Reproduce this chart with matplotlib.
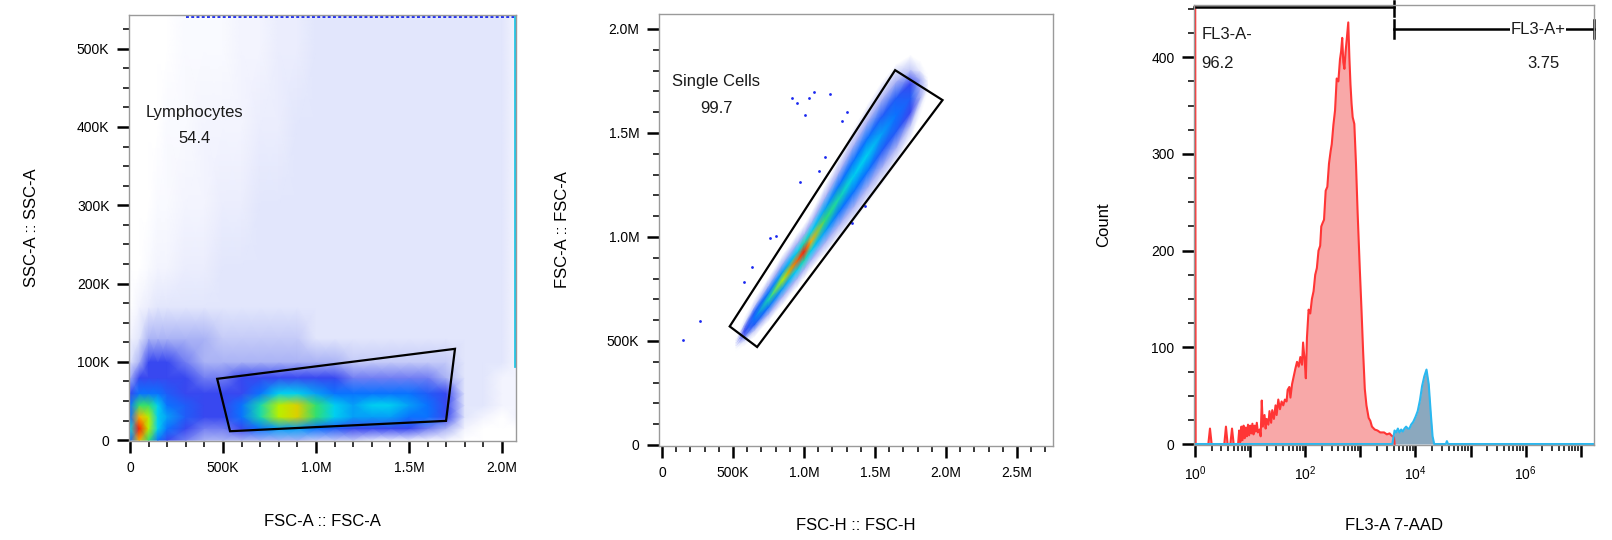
import matplotlib
matplotlib.use("Agg")
import matplotlib.pyplot as plt
import numpy as np
from matplotlib.colors import LinearSegmentedColormap, Normalize
from matplotlib.ticker import MultipleLocator, FuncFormatter, FixedLocator, LogLocator, NullFormatter

plt.rcParams.update({
    "font.family": ["Liberation Sans", "DejaVu Sans"],
    "mathtext.fontset": "custom",
    "mathtext.rm": "Liberation Sans",
    "text.color": "#1a1a1a",
})

# ── Panel 1: FSC-A vs SSC-A, density levels (0 = empty .. 10 = densest), values in K ──
p1_fsc = [0, 50, 100, 150, 200, 300, 400, 500, 600, 700, 800, 900, 1000, 1100,
          1200, 1300, 1400, 1500, 1600, 1700, 1800, 1900, 2000, 2075]
p1_ssc = [0, 15, 30, 45, 60, 80, 100, 130, 170, 220, 300, 400, 500, 543]
p1_level = [
    [5, 9, 7, 5, 4, 3.5, 3, 3, 3, 3, 3, 3, 2.5, 2.5, 2.5, 2, 1.5, 1.5, 1, 1, 0, 0, 0, 0],
    [6, 10, 8, 6, 5, 4, 3.5, 3.5, 4, 5, 5.5, 5.5, 5, 4.5, 4, 4, 4, 4, 3.5, 3, 1, 0, 0, 0],
    [5, 9, 8, 6, 5.5, 4.5, 4, 4, 5, 6.5, 8, 8.5, 7, 6, 5.5, 5.5, 5.5, 5, 5, 4, 2, 1, 0, 1],
    [5, 7, 7, 6, 5, 4.5, 4, 4, 5, 6.5, 8, 8.5, 7, 6, 5.5, 6, 6, 5.5, 5, 4, 2, 2, 1, 1],
    [4, 5, 5, 5, 4.5, 4, 4, 4, 4, 5, 6, 6, 5.5, 5, 5, 5, 5, 5, 4.5, 4, 2, 2, 1, 1],
    [3, 4, 4, 4, 4, 4, 3.5, 3.5, 4, 4, 4, 4, 4, 4, 3.5, 3.5, 3.5, 3.5, 3.5, 3, 2, 2, 1, 1],
    [2, 3, 4, 4, 4, 3.5, 3, 3, 3, 3, 3, 3, 3, 3, 2.5, 2.5, 2.5, 2.5, 2.5, 2.5, 2, 2, 2, 1],
    [1, 2, 3, 3, 3, 3, 3, 2.5, 2.5, 2.5, 2.5, 2.5, 2, 2, 2, 2, 2, 2, 2, 2, 2, 2, 2, 1],
    [0, 1, 1.5, 2, 2, 2, 2, 2, 2, 2, 2, 2, 2, 2, 2, 2, 2, 2, 2, 2, 2, 2, 2, 1],
    [0, 0, 0.5, 1, 1, 1.5, 1.5, 2, 2, 2, 2, 2, 2, 2, 2, 2, 2, 2, 2, 2, 2, 2, 2, 1],
    [0, 0, 0, 0.5, 0.5, 1, 1, 1.5, 1.5, 2, 2, 2, 2, 2, 2, 2, 2, 2, 2, 2, 2, 2, 2, 1],
    [0, 0, 0, 0, 0.5, 0.5, 1, 1, 1, 1.5, 1.5, 2, 2, 2, 2, 2, 2, 2, 2, 2, 2, 2, 2, 1],
    [0, 0, 0, 0, 0, 0.5, 0.5, 0.5, 1, 1, 1.5, 1.5, 2, 2, 2, 2, 2, 2, 2, 2, 2, 2, 2, 1],
    [0, 0, 0, 0, 0, 0.5, 0.5, 0.5, 1, 1, 1.5, 1.5, 2, 2, 2, 2, 2, 2, 2, 2, 2, 2, 2, 1],
]
p1_top_edge_fsc = [300, 2070]     # events piled up at max SSC
p1_right_edge_ssc = [95, 543]     # events piled up at max FSC
lymph_gate_fsc = [469, 1747, 1699, 538]
lymph_gate_ssc = [78.4, 116.7, 24.7, 11.5]

# ── Panel 2: FSC-H vs FSC-A, ridge of singlet population (K) ──
ridge_h = [520, 580, 650, 750, 850, 950, 1000, 1050, 1150, 1250, 1350, 1450, 1550, 1650, 1750, 1820, 1870]
ridge_a = [490, 545, 610, 700, 795, 885, 930, 980, 1085, 1190, 1295, 1400, 1500, 1590, 1670, 1715, 1735]
ridge_half = [25, 45, 60, 70, 80, 85, 85, 90, 110, 130, 150, 160, 165, 160, 135, 85, 35]
ridge_center = [1, 4, 5, 6.5, 8, 9.5, 10, 9, 7, 6.5, 6, 6, 5.5, 5, 4.5, 3, 1]
ridge_mid = [0.5, 3.5, 4.5, 5, 5.5, 6, 6.5, 6, 5.5, 5, 5, 5, 4.5, 4.5, 4, 3, 0.5]
ridge_edge = [0, 2, 2.5, 3, 3, 3, 3, 3, 3, 3, 3, 3, 3, 3, 2.5, 1.5, 0]
out_h = [148, 270, 635, 576, 760, 800, 917, 953, 1035, 1070, 1181, 1004, 971, 1105, 1145, 1270, 1300, 1430, 1340]
out_a = [504, 595, 856, 785, 995, 1003, 1670, 1645, 1666, 1699, 1686, 1587, 1265, 1319, 1385, 1557, 1600, 1149, 1066]
single_gate_h = [477, 1642, 1976, 670]
single_gate_a = [570, 1802, 1658, 471]

# ── Panel 3: FL3-A histogram, log10 position vs count ──
neg_log = [0.00, 0.01, 0.24, 0.27, 0.30, 0.53, 0.56, 0.59, 0.64, 0.67, 0.70,
           0.78, 0.80, 0.82, 0.84, 0.86, 0.88, 0.90, 0.92, 0.94, 0.96, 0.98, 1.00,
           1.02, 1.04, 1.06, 1.08, 1.10, 1.12, 1.14, 1.17, 1.19, 1.21, 1.23, 1.26,
           1.28, 1.30, 1.33, 1.35, 1.38, 1.40, 1.43, 1.46, 1.48, 1.51, 1.54, 1.57,
           1.60, 1.63, 1.66, 1.68, 1.71, 1.73, 1.76, 1.79, 1.82, 1.85, 1.88, 1.91,
           1.94, 1.96, 1.99, 2.01, 2.03, 2.06, 2.09, 2.12, 2.15, 2.18, 2.21, 2.24,
           2.27, 2.29, 2.31, 2.34, 2.37, 2.40, 2.43, 2.46, 2.48, 2.51, 2.54, 2.57,
           2.60, 2.63, 2.65, 2.67, 2.69, 2.71, 2.73, 2.75, 2.78, 2.80, 2.82, 2.84,
           2.86, 2.89, 2.92, 2.95, 2.99, 3.02, 3.05, 3.08, 3.11, 3.15, 3.18, 3.21,
           3.26, 3.31, 3.36, 3.43, 3.48, 3.53, 3.56, 3.61, 3.62]
neg_count = [600, 0, 0, 16, 0, 0, 18, 0, 0, 16, 0,
             0, 14, 2, 18, 4, 19, 6, 17, 8, 20, 9, 19,
             11, 21, 10, 19, 13, 22, 12, 15, 8, 45, 18, 30,
             16, 26, 20, 34, 22, 35, 26, 40, 30, 46, 36, 44,
             40, 46, 44, 56, 59, 48, 62, 70, 78, 85, 80, 90,
             82, 105, 85, 68, 110, 139, 135, 150, 158, 175, 182, 200,
             205, 225, 228, 232, 262, 266, 290, 303, 310, 330, 345, 378,
             375, 398, 406, 420, 395, 388, 405, 417, 436, 400, 372, 352,
             338, 331, 290, 239, 180, 139, 95, 57, 40, 27, 24, 18,
             15, 14, 12, 12, 10, 11, 9, 7, 0]
pos_log = [-0.1, 3.58, 3.62, 3.65, 3.68, 3.71, 3.74, 3.77, 3.80, 3.83, 3.86, 3.89,
           3.92, 3.96, 4.00, 4.04, 4.08, 4.12, 4.16, 4.20, 4.24, 4.28, 4.31, 4.34,
           4.55, 4.57, 4.59, 7.4]
pos_count = [0, 0, 14, 12, 16, 12, 15, 13, 16, 18, 16, 16,
             20, 23, 28, 34, 45, 60, 70, 77, 62, 30, 8, 0,
             0, 3, 0, 0]
neg_gate_log = (-0.02, 3.61)
pos_gate_log = (3.61, 7.24)

# density colours (FlowJo pseudocolor on white)
level_colors = ["#ffffff", "#f3f4fe", "#e2e6fc", "#a9b2f5", "#3848f0", "#0a70ff",
                "#00d0f0", "#30e070", "#b8f000", "#ffb000", "#ff1e00"]
dens_cmap = LinearSegmentedColormap.from_list("flow", level_colors)
dens_norm = Normalize(0, 10)

SPINE = "#9a9a9a"


def style_axes(ax):
    for s in ax.spines.values():
        s.set_color(SPINE)
        s.set_linewidth(1.0)
    ax.tick_params(which="major", direction="out", length=8.6, width=1.8, color="black",
                   labelsize=10, pad=5.5, top=False, right=False)
    ax.tick_params(which="minor", direction="out", length=4.3, width=1.1, color="black",
                   top=False, right=False)


def fmt_k(v, pos):
    if abs(v) < 1e-9:
        return "0"
    if v < 1000:
        return f"{v:.0f}K"
    return f"{v / 1000:.1f}M"


fig = plt.figure(figsize=(16.12, 5.4), dpi=100)

# ── Panel 1 ──
ax1 = fig.add_axes([129 / 1612, 99 / 540, 387 / 1612, 426 / 540])
X1, Y1 = np.meshgrid(p1_fsc, p1_ssc)
ax1.pcolormesh(X1, Y1, np.array(p1_level), cmap=dens_cmap, norm=dens_norm, shading="gouraud")
ax1.plot(p1_top_edge_fsc, [541, 541], color="#2030f0", lw=1.4, ls=(0, (1.5, 1.2)))
ax1.plot([2069, 2069], p1_right_edge_ssc, color="#20c8e8", lw=2.0)
ax1.fill(lymph_gate_fsc, lymph_gate_ssc, fill=False, edgecolor="black", lw=1.6)
ax1.text(349, 418, "Lymphocytes", ha="center", va="center", fontsize=12)
ax1.text(349, 385, "54.4", ha="center", va="center", fontsize=12)
ax1.set_xlim(-5, 2075)
ax1.set_ylim(-1, 543)
ax1.xaxis.set_major_locator(MultipleLocator(500))
ax1.xaxis.set_minor_locator(MultipleLocator(100))
ax1.yaxis.set_major_locator(MultipleLocator(100))
ax1.yaxis.set_minor_locator(MultipleLocator(25))
ax1.xaxis.set_major_formatter(FuncFormatter(fmt_k))
ax1.yaxis.set_major_formatter(FuncFormatter(fmt_k))
style_axes(ax1)
ax1.set_xlabel("FSC-A :: FSC-A", fontsize=12)
ax1.set_ylabel("SSC-A :: SSC-A", fontsize=12)
ax1.xaxis.set_label_coords(0.5, -0.188)
ax1.yaxis.set_label_coords(-0.251, 0.5)
ax1.xaxis.label.set_va("center")
ax1.yaxis.label.set_va("center")

# ── Panel 2 ──
ax2 = fig.add_axes([659 / 1612, 94 / 540, 394 / 1612, 432 / 540])
offsets = np.array([-1.5, -1.0, -0.5, 0.0, 0.5, 1.0, 1.5])
h = np.array(ridge_h, dtype=float)
a = np.array(ridge_a, dtype=float)
hw = np.array(ridge_half, dtype=float)
X2 = np.tile(h, (len(offsets), 1))
Y2 = a[None, :] + offsets[:, None] * hw[None, :]
zeros = np.zeros(len(ridge_h))
C2 = np.vstack([zeros, ridge_edge, ridge_mid, ridge_center, ridge_mid, ridge_edge, zeros])
ax2.pcolormesh(X2, Y2, C2, cmap=dens_cmap, norm=dens_norm, shading="gouraud")
ax2.scatter(out_h, out_a, s=4, color="#1a28f0", linewidths=0)
ax2.fill(single_gate_h, single_gate_a, fill=False, edgecolor="black", lw=1.6)
ax2.text(383, 1749, "Single Cells", ha="center", va="center", fontsize=12)
ax2.text(383, 1620, "99.7", ha="center", va="center", fontsize=12)
ax2.set_xlim(-21, 2754)
ax2.set_ylim(-5, 2072)
ax2.xaxis.set_major_locator(MultipleLocator(500))
ax2.xaxis.set_minor_locator(MultipleLocator(100))
ax2.yaxis.set_major_locator(MultipleLocator(500))
ax2.yaxis.set_minor_locator(MultipleLocator(100))
ax2.xaxis.set_major_formatter(FuncFormatter(fmt_k))
ax2.yaxis.set_major_formatter(FuncFormatter(fmt_k))
style_axes(ax2)
ax2.set_xlabel("FSC-H :: FSC-H", fontsize=12)
ax2.set_ylabel("FSC-A :: FSC-A", fontsize=12)
ax2.xaxis.set_label_coords(0.5, -0.185)
ax2.yaxis.set_label_coords(-0.244, 0.5)
ax2.xaxis.label.set_va("center")
ax2.yaxis.label.set_va("center")

# ── Panel 3 ──
ax3 = fig.add_axes([1194 / 1612, 95 / 540, 400 / 1612, 440 / 540])
nx = 10 ** np.array(neg_log)
px = 10 ** np.array(pos_log)
ax3.fill_between(nx, neg_count, color="#f8a8a8", lw=0)
ax3.plot(nx, neg_count, color="#ff3535", lw=1.5)
ax3.fill_between(px, pos_count, color="#8ba8be", lw=0)
ax3.plot(px, pos_count, color="#2ab8f0", lw=1.5)
ax3.set_xscale("log")
ax3.set_xlim(10 ** -0.02, 10 ** 7.24)
ax3.set_ylim(-1, 454)

g0, g1 = 10 ** neg_gate_log[0], 10 ** neg_gate_log[1]
ax3.plot([g0, g1], [452, 452], color="black", lw=1.8, clip_on=False)
ax3.plot([g1, g1], [443, 458], color="black", lw=1.8, clip_on=False)
p0, p1 = 10 ** pos_gate_log[0], 10 ** pos_gate_log[1]
ax3.plot([p0, p1], [429, 429], color="black", lw=1.8, clip_on=False)
ax3.plot([p0, p0], [420, 438], color="black", lw=1.8, clip_on=False)
ax3.plot([p1, p1], [420, 438], color="black", lw=1.8, clip_on=False)
ax3.text(10 ** 0.11, 424, "FL3-A-", ha="left", va="center", fontsize=12)
ax3.text(10 ** 0.11, 394, "96.2", ha="left", va="center", fontsize=12)
ax3.text(10 ** 6.22, 429, "FL3-A+", ha="center", va="center", fontsize=12,
         bbox=dict(facecolor="white", edgecolor="none", pad=0.5))
ax3.text(10 ** 6.32, 394, "3.75", ha="center", va="center", fontsize=12)

decades = [10.0 ** k for k in range(0, 8)]
ax3.xaxis.set_major_locator(FixedLocator(decades))
ax3.xaxis.set_major_formatter(FuncFormatter(
    lambda v, pos: (r"$\mathdefault{10^{%d}}$" % round(np.log10(v))) if round(np.log10(v)) % 2 == 0 else ""))
ax3.xaxis.set_minor_locator(LogLocator(base=10, subs=range(2, 10), numticks=20))
ax3.xaxis.set_minor_formatter(NullFormatter())
ax3.yaxis.set_major_locator(MultipleLocator(100))
ax3.yaxis.set_minor_locator(MultipleLocator(25))
style_axes(ax3)
ax3.set_xlabel("FL3-A 7-AAD", fontsize=12)
ax3.set_ylabel("Count", fontsize=12)
ax3.xaxis.set_label_coords(0.5, -0.184)
ax3.yaxis.set_label_coords(-0.225, 0.5)
ax3.xaxis.label.set_va("center")
ax3.yaxis.label.set_va("center")

fig.savefig("out.png", dpi=100)
